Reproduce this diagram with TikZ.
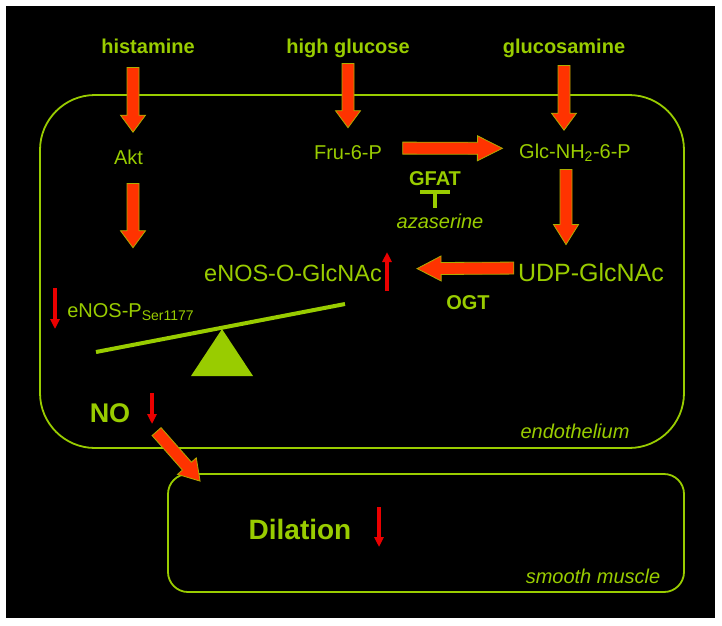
\documentclass[tikz,border=0pt]{standalone}
\usepackage{fontspec}
\setmainfont{Liberation Sans}
\usetikzlibrary{calc,arrows.meta}
\definecolor{leaf}{RGB}{153,204,0}
\definecolor{flame}{RGB}{255,51,0}
\definecolor{alarm}{RGB}{235,0,0}

\newcommand{\fatarr}[3][17pt]{%
  \coordinate (fa-s) at (#2);
  \coordinate (fa-e) at (#3);
  \coordinate (fa-h) at ($(fa-e)!#1!(fa-s)$);
  \filldraw[fat]($(fa-s)!6pt!90:(fa-e)$)--($(fa-h)!6pt!90:(fa-e)$)--($(fa-h)!12.5pt!90:(fa-e)$)--(fa-e)
    --($(fa-h)!12.5pt!-90:(fa-e)$)--($(fa-h)!6pt!-90:(fa-e)$)--($(fa-s)!6pt!-90:(fa-e)$)--cycle;}

\begin{document}
\begin{tikzpicture}[x=1pt,y=-1pt,line width=0.6pt,
  txt/.style={text=leaf,inner sep=0pt,anchor=base,font=\fontsize{20}{24}\selectfont},
  btxt/.style={txt,font=\fontsize{20}{24}\selectfont\bfseries},
  itxt/.style={txt,font=\fontsize{20}{24}\selectfont\itshape},
  cell/.style={draw=leaf,line width=1.8pt,rectangle},
  fat/.style={fill=flame,draw=leaf!80!flame,line width=0.8pt},
  redarr/.style={draw=alarm,line width=3.2pt,-{Triangle[width=9pt,length=10pt]}}]

\fill[white](0,0) rectangle (722,625);
\fill[black](6,6) rectangle (715,618);

\node[cell,rounded corners=55pt,minimum width=644pt,minimum height=353pt](endobox) at (362,271.5){};
\node[cell,rounded corners=20pt,minimum width=516pt,minimum height=118pt](smcbox) at (426,533){};

\node[btxt](hist) at (148,53){histamine};
\node[btxt](hglu) at (348,53){high glucose};
\node[btxt](gsam) at (564,53){glucosamine};
\node[txt](akt) at (128.5,164){Akt};
\node[txt](fru) at (348,159){Fru-6-P};
\node[txt](glc) at (575,158){Glc-NH\textsubscript{2}-6-P};
\node[btxt](gfat) at (435,185){GFAT};
\node[itxt](aza) at (440,228){azaserine};
\node[txt,font=\fontsize{25}{30}\selectfont](udp) at (591,281){UDP-GlcNAc};
\node[txt,font=\fontsize{23.5}{28}\selectfont](enoso) at (293,281){eNOS-O-GlcNAc};
\node[btxt](ogt) at (468,309){OGT};
\node[txt,anchor=base west](enosp) at (67,317){eNOS-P\textsubscript{Ser1177}};
\node[btxt,font=\fontsize{27}{32}\selectfont\bfseries](no) at (110,422){NO};
\node[btxt,font=\fontsize{28}{34}\selectfont\bfseries](dil) at (300,539){Dilation};
\node[itxt](endo) at (575,438){endothelium};
\node[itxt](smc) at (593,583){smooth muscle};

\fatarr{$(hist.south)+(-15,14)$}{$(akt.north)+(4.5,-17)$}
\fatarr{$(akt.south)+(4.5,19)$}{$(enosp.north west)+(66,-55)$}
\fatarr{$(hglu.south)+(0,6)$}{$(fru.north)+(0,-17)$}
\fatarr{$(gsam.south)+(0,8)$}{$(glc.north)+(-11,-13)$}
\fatarr[25pt]{$(fru.east)+(20.5,-4)$}{$(glc.west)+(-16.5,-4)$}
\fatarr[20pt]{$(glc.south)+(-9,8)$}{$(udp.north)+(-25,-18)$}
\fatarr[24pt]{$(udp.west)+(-4,-4)$}{$(enoso.east)+(35,-4)$}
\fatarr[20pt]{$(no.south east)+(26,9)$}{$(smcbox.north west)+(33,8)$}

\draw[leaf,line width=4pt](420,192)--(450,192) (435,192)--(435,208);

\draw[leaf,line width=4pt](96,352)--(345,304);
\fill[leaf](222,329)--(191,376)--(253,376)--cycle;

\draw[redarr](55,288)--(55,329);
\draw[redarr](387,291)--(387,252);
\draw[redarr](152,393)--(152,424);
\draw[redarr](379,507)--(379,547);

\end{tikzpicture}
\end{document}
